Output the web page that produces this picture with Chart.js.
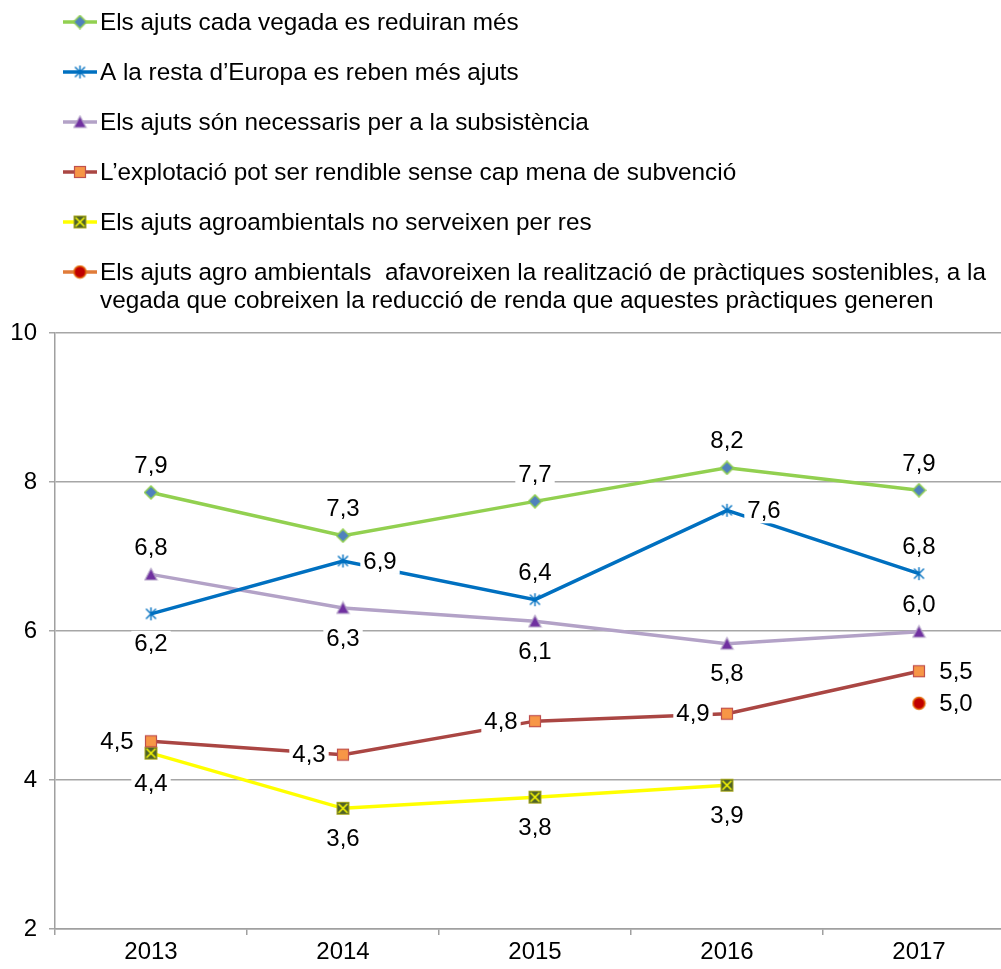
<!DOCTYPE html>
<html>
<head>
<meta charset="utf-8">
<script src="https://cdn.jsdelivr.net/npm/chart.js@4"></script>
<style>
  html, body { margin: 0; padding: 0; background: #fff; overflow: hidden; }
  canvas { display: block; }
</style>
</head>
<body>
<canvas id="chart" width="1015" height="969"></canvas>
<script>
const years = ["2013", "2014", "2015", "2016", "2017"];
const seriesNames = [
  "Els ajuts cada vegada es reduiran més",
  "A la resta d’Europa es reben més ajuts",
  "Els ajuts són necessaris per a la subsistència",
  "L’explotació pot ser rendible sense cap mena de subvenció",
  "Els ajuts agroambientals no serveixen per res",
  "Els ajuts agro ambientals  afavoreixen la realització de pràctiques sostenibles, a la vegada que cobreixen la reducció de renda que aquestes pràctiques generen"
];
const reduiran = [7.86, 7.28, 7.74, 8.19, 7.89];
const restaEuropa = [6.23, 6.94, 6.42, 7.62, 6.77];
const subsistencia = [6.76, 6.31, 6.13, 5.83, 5.99];
const rendible = [4.52, 4.34, 4.79, 4.89, 5.46];
const noServeixen = [4.36, 3.62, 3.77, 3.93, null];
const afavoreixen = [null, null, null, null, 5.03];
const yMin = 2, yMax = 10, yStep = 2;

const FONT = "'Liberation Sans', Arial, sans-serif";

// marker images, drawn once and used both in the chart and in the legend
function marker(size, draw) {
  const c = document.createElement("canvas");
  c.width = size; c.height = size;
  draw(c.getContext("2d"), size);
  return c;
}
const diamond = marker(15, g => {
  g.beginPath(); g.moveTo(7.5, 1); g.lineTo(14, 7.5); g.lineTo(7.5, 14); g.lineTo(1, 7.5); g.closePath();
  g.fillStyle = "#4F81BD"; g.fill(); g.strokeStyle = "#92D050"; g.lineWidth = 1.5; g.stroke();
});
const star = marker(15, g => {
  g.strokeStyle = "#0070C0"; g.lineWidth = 1.4;
  g.beginPath();
  g.moveTo(2.5, 2.5); g.lineTo(12.5, 12.5);
  g.moveTo(12.5, 2.5); g.lineTo(2.5, 12.5);
  g.moveTo(7.5, 1); g.lineTo(7.5, 14);
  g.stroke();
});
const triangle = marker(15, g => {
  g.beginPath(); g.moveTo(7.5, 1.5); g.lineTo(13.5, 13); g.lineTo(1.5, 13); g.closePath();
  g.fillStyle = "#7030A0"; g.fill(); g.strokeStyle = "#B3A2C7"; g.lineWidth = 1.2; g.stroke();
});
const square = marker(14, g => {
  g.fillStyle = "#F79646"; g.fillRect(1.5, 1.5, 11, 11);
  g.strokeStyle = "#C0504D"; g.lineWidth = 1.2; g.strokeRect(1.5, 1.5, 11, 11);
});
const xbox = marker(15, g => {
  g.fillStyle = "#4F6228"; g.fillRect(1.5, 1.5, 12, 12);
  g.strokeStyle = "#A8A820"; g.lineWidth = 1; g.strokeRect(1.5, 1.5, 12, 12);
  g.strokeStyle = "#FFFF00"; g.lineWidth = 1.5;
  g.beginPath(); g.moveTo(3, 3); g.lineTo(12, 12); g.moveTo(12, 3); g.lineTo(3, 12); g.stroke();
});
const dot = marker(15, g => {
  g.beginPath(); g.arc(7.5, 7.5, 6, 0, Math.PI * 2);
  g.fillStyle = "#C00000"; g.fill(); g.strokeStyle = "#E46C0A"; g.lineWidth = 1.5; g.stroke();
});

function series(i, data, color, point, labelPos) {
  return {
    label: seriesNames[i],
    data,
    borderColor: color,
    backgroundColor: color,
    borderWidth: 3.5,
    pointStyle: point,
    pointRadius: 7,
    tension: 0,
    spanGaps: false,
    labelPos
  };
}

const datasets = [
  series(0, reduiran, "#92D050", diamond, ["top", "top", "top", "top", "top"]),
  series(1, restaEuropa, "#0070C0", star, ["bottom", "right", "top", "right", "top"]),
  series(2, subsistencia, "#B3A2C7", triangle, ["top", "bottom", "bottom", "bottom", "top"]),
  series(3, rendible, "#AA4643", square, ["left", "left", "left", "left", "right"]),
  series(4, noServeixen, "#FFFF00", xbox, ["bottom", "bottom", "bottom", "bottom", "bottom"]),
  series(5, afavoreixen, "#E07B39", dot, ["right", "right", "right", "right", "right"])
];

const fmt = v => v.toFixed(1).replace(".", ",");

const valueLabels = {
  id: "valueLabels",
  afterDatasetsDraw(chart) {
    const ctx = chart.ctx;
    ctx.save();
    ctx.font = "24px " + FONT;
    ctx.textBaseline = "middle";
    ctx.textAlign = "center";
    chart.data.datasets.forEach((ds, di) => {
      const meta = chart.getDatasetMeta(di);
      meta.data.forEach((pt, i) => {
        const v = ds.data[i];
        if (v == null) return;
        const txt = fmt(v);
        const w = ctx.measureText(txt).width;
        let x = pt.x, y = pt.y;
        const pos = ds.labelPos[i];
        if (pos === "top") y -= 27;
        else if (pos === "bottom") y += 30;
        else if (pos === "left") x -= 34;
        else if (pos === "right") x += 37;
        ctx.fillStyle = "#fff";
        ctx.fillRect(x - w / 2 - 3, y - 13, w + 6, 26);
        ctx.fillStyle = "#000";
        ctx.fillText(txt, x, y + 1);
      });
    });
    ctx.restore();
  }
};

const topLegend = {
  id: "topLegend",
  afterDraw(chart) {
    const ctx = chart.ctx;
    ctx.save();
    ctx.font = "24.3px " + FONT;
    ctx.textBaseline = "middle";
    ctx.textAlign = "left";
    chart.data.datasets.forEach((ds, i) => {
      const y = 22 + 50 * i;
      ctx.strokeStyle = ds.borderColor;
      ctx.lineWidth = 3.5;
      ctx.beginPath(); ctx.moveTo(63, y); ctx.lineTo(97, y); ctx.stroke();
      const m = ds.pointStyle;
      ctx.drawImage(m, 80 - m.width / 2, y - m.height / 2);
      // wrap long names
      const words = ds.label.split(" ");
      const lines = [];
      let cur = "";
      words.forEach(wd => {
        const test = cur === "" ? wd : cur + " " + wd;
        if (ctx.measureText(test).width > 900 && cur !== "") { lines.push(cur); cur = wd; }
        else cur = test;
      });
      lines.push(cur);
      ctx.fillStyle = "#000";
      lines.forEach((ln, k) => ctx.fillText(ln, 100, y + 1 + k * 28));
    });
    ctx.restore();
  }
};

new Chart(document.getElementById("chart"), {
  type: "line",
  data: { labels: years, datasets },
  plugins: [valueLabels, topLegend],
  options: {
    responsive: false,
    animation: false,
    layout: { autoPadding: false, padding: { top: 333, left: 0, right: 0, bottom: 0 } },
    plugins: { legend: { display: false }, tooltip: { enabled: false } },
    scales: {
      x: {
        offset: true,
        grid: { offset: true, drawOnChartArea: false, drawTicks: true, tickLength: 6, color: "#A0A0A0", lineWidth: 1.5 },
        border: { color: "#A0A0A0", width: 1.5 },
        ticks: { color: "#000", font: { family: FONT, size: 24 }, padding: 3, maxRotation: 0 },
        afterFit: s => { s.height = 40; }
      },
      y: {
        min: yMin,
        max: yMax,
        ticks: { stepSize: yStep, color: "#000", font: { family: FONT, size: 24 }, padding: 12 },
        grid: { color: "#A6A6A6", lineWidth: 1.5, tickLength: 6 },
        border: { color: "#A0A0A0", width: 1.5 },
        afterFit: s => { s.width = 55; }
      }
    }
  }
});
</script>
</body>
</html>
